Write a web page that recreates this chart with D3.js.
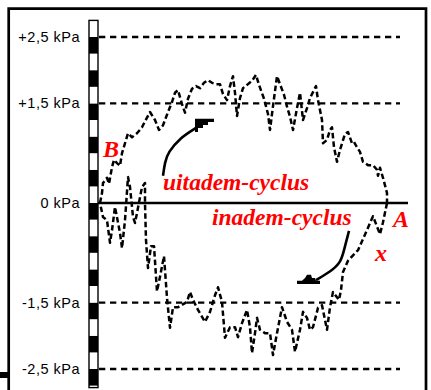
<!DOCTYPE html>
<html>
<head>
<meta charset="utf-8">
<script src="https://cdn.jsdelivr.net/npm/d3@7"></script>
<style>
  html, body { margin: 0; padding: 0; background: #fff; }
  svg { display: block; }
</style>
</head>
<body>
<div id="chart"></div>
<script>
// ── Data ────────────────────────────────────────────────────────────────
// pressure levels (kPa) with their labels
const levels = [2.5, 1.5, 0, -1.5, -2.5];
const levelLabels = ["+2,5 kPa", "+1,5 kPa", "0 kPa", "-1,5 kPa", "-2,5 kPa"];

// upper half of the loop (uitadem), [sample, kPa], left -> right
const uitadem = [
  [2, 0], [4, 0.15], [5, 0.30], [9, 0.38], [11, 0.29], [14, 0.54], [16, 0.65], [19, 0.60],
  [22, 0.56], [24, 0.75], [27, 0.90], [30, 1.05], [34, 0.99], [39, 1.05], [44, 1.14], [47, 1.23],
  [52, 1.37], [57, 1.25], [61, 1.10], [65, 1.17], [70, 1.37], [74, 1.52], [77, 1.66], [80, 1.70],
  [84, 1.49], [87, 1.36], [90, 1.57], [94, 1.72], [98, 1.76], [102, 1.73], [106, 1.81], [110, 1.85],
  [114, 1.81], [118, 1.79], [122, 1.79], [125, 1.64], [129, 1.55], [132, 1.76], [135, 1.91], [137, 1.66],
  [139, 1.31], [142, 1.58], [145, 1.73], [150, 1.79], [154, 1.84], [158, 1.93], [161, 1.78], [166, 1.57],
  [170, 1.34], [172, 1.10], [175, 1.46], [179, 1.91], [182, 1.79], [186, 1.63], [189, 1.45], [192, 1.30],
  [195, 1.10], [199, 1.43], [202, 1.66], [205, 1.25], [209, 1.43], [212, 1.58], [215, 1.67], [218, 1.76],
  [220, 1.55], [224, 1.25], [225, 0.90], [229, 0.95], [232, 1.10], [234, 1.14], [236, 0.84], [239, 0.62],
  [242, 0.80], [247, 1.04], [250, 1.07], [254, 0.90], [256, 0.92], [259, 0.84], [262, 0.77], [265, 0.62],
  [270, 0.57], [275, 0.57], [279, 0.50], [280, 0.41], [282, 0.53], [285, 0.38], [289, 0.15], [289, 0]
];

// lower half of the loop (inadem), [sample, kPa], right -> left
const inadem = [
  [289, 0], [285, -0.29], [282, -0.47], [275, -0.20], [268, -0.44], [260, -0.71], [250, -0.87], [245, -1.04],
  [243, -1.31], [241, -1.46], [238, -1.40], [235, -1.34], [232, -1.57], [229, -1.91], [224, -1.54], [220, -1.58],
  [215, -1.87], [212, -1.91], [209, -1.73], [205, -1.64], [202, -1.91], [197, -2.24], [194, -1.91], [189, -1.79],
  [184, -1.57], [179, -1.96], [175, -2.29], [172, -1.96], [167, -1.96], [162, -1.91], [159, -1.73], [157, -1.96],
  [154, -2.26], [152, -1.87], [149, -1.61], [144, -1.81], [140, -2.02], [137, -1.87], [132, -1.87], [127, -2.03],
  [124, -1.49], [120, -1.27], [117, -1.39], [112, -1.64], [107, -1.79], [100, -1.61], [95, -1.46], [92, -1.34],
  [89, -1.49], [80, -1.57], [75, -1.57], [72, -1.88], [69, -1.43], [66, -0.80], [62, -1.11], [59, -1.33],
  [56, -0.65], [53, -0.65], [50, -0.98], [48, -0.56], [47, 0], [47, 0.30], [44, 0.24], [39, -0.15],
  [37, -0.30], [35, -0.21], [32, 0.24], [30, 0.39], [27, -0.26], [24, -0.68], [22, -0.45], [17, -0.06],
  [14, -0.41], [12, -0.60], [9, -0.26], [5, -0.21], [2, 0]
];

// annotation labels: [text, sample, kPa, font size]
const annotations = [
  ["B", 5, 0.69, 24],
  ["uitadem-cyclus", 65, 0.19, 23.5],
  ["inadem-cyclus", 114, -0.33, 23.5],
  ["A", 295, -0.36, 24],
  ["x", 277, -0.87, 24]
];

// arrow shafts and heads, [sample, kPa]
const upArrowShaft = [[65, 0.41], [67, 0.62], [70, 0.76], [82, 0.98], [98, 1.13]];
const upArrowHead = [[97, 1.27], [116, 1.27], [116, 1.22], [110, 1.22], [110, 1.175], [105, 1.175],
  [105, 1.13], [100, 1.13], [100, 1.07], [97, 1.07]];
const downArrowShaft = [[251, -0.42], [246, -0.71], [243, -0.89], [233, -1.03], [218, -1.16]];
const downArrowHead = [[199, -1.22], [222, -1.22], [222, -1.17], [218, -1.17], [217, -1.13], [214, -1.13],
  [213, -1.08], [209, -1.08], [207, -1.13], [204, -1.17], [199, -1.17]];

// ── Setup ───────────────────────────────────────────────────────────────
const W = 431, H = 390;
const x = d3.scaleLinear().domain([0, 310]).range([98, 408]);
const y = d3.scaleLinear().domain([-2.75, 2.75]).range([385.6, 20.4]);

const svg = d3.select("#chart").append("svg").attr("width", W).attr("height", H);

// frame
svg.append("path")
  .attr("d", `M8.7,${H + 5} V8.7 H426 V${H + 5}`)
  .attr("fill", "none").attr("stroke", "#000").attr("stroke-width", 2.7);
svg.append("rect").attr("x", 0).attr("y", 372).attr("width", 9).attr("height", 6).attr("fill", "#000");

// ── Gridlines ───────────────────────────────────────────────────────────
svg.append("g")
  .selectAll("line")
  .data(levels.filter((d) => d !== 0))
  .join("line")
  .attr("x1", 99).attr("x2", 400)
  .attr("y1", (d) => y(d)).attr("y2", (d) => y(d))
  .attr("stroke", "#000").attr("stroke-width", 2.4)
  .attr("stroke-dasharray", "6.3 4.7");

// zero line
svg.append("line")
  .attr("x1", x(0)).attr("x2", 408)
  .attr("y1", y(0)).attr("y2", y(0))
  .attr("stroke", "#000").attr("stroke-width", 2.7);

// ── Scale bar (alternating 0.25 kPa blocks) ─────────────────────────────
const blocks = d3.range(-11, 11).map((i) => i * 0.25);
const bar = svg.append("g");
bar.selectAll("rect")
  .data(blocks)
  .join("rect")
  .attr("x", 89).attr("width", 9)
  .attr("y", (d) => y(d + 0.25)).attr("height", (d) => y(d) - y(d + 0.25))
  .attr("fill", (d) => (Math.round(d * 4) % 2 === 0 ? "#fff" : "#000"));
bar.append("rect")
  .attr("x", 89).attr("width", 9)
  .attr("y", y(2.75)).attr("height", y(-2.75) - y(2.75) + 2)
  .attr("fill", "none").attr("stroke", "#000").attr("stroke-width", 1.4);

// level labels
svg.append("g")
  .selectAll("text")
  .data(levels)
  .join("text")
  .attr("x", 80).attr("y", (d) => y(d))
  .attr("text-anchor", "end").attr("dominant-baseline", "central")
  .attr("font-family", "'Liberation Sans', Arial, Helvetica, sans-serif")
  .attr("font-size", 14.5)
  .attr("letter-spacing", 0.5)
  .text((d, i) => levelLabels[i]);

// ── Loop ────────────────────────────────────────────────────────────────
const line = d3.line().x((d) => x(d[0])).y((d) => y(d[1]));
svg.append("g")
  .selectAll("path")
  .data([uitadem, inadem])
  .join("path")
  .attr("d", line)
  .attr("fill", "none").attr("stroke", "#000").attr("stroke-width", 2.5)
  .attr("stroke-dasharray", "5.5 3").attr("stroke-linejoin", "round");

// ── Arrows ──────────────────────────────────────────────────────────────
const curve = d3.line().x((d) => x(d[0])).y((d) => y(d[1])).curve(d3.curveBasis);
svg.append("g")
  .selectAll("path")
  .data([upArrowShaft, downArrowShaft])
  .join("path")
  .attr("d", curve)
  .attr("fill", "none").attr("stroke", "#000").attr("stroke-width", 2.6);
svg.append("g")
  .selectAll("polygon")
  .data([upArrowHead, downArrowHead])
  .join("polygon")
  .attr("points", (d) => d.map((p) => [x(p[0]), y(p[1])].join(",")).join(" "))
  .attr("fill", "#000");

// ── Red annotations ─────────────────────────────────────────────────────
svg.append("g")
  .selectAll("text")
  .data(annotations)
  .join("text")
  .attr("x", (d) => x(d[1])).attr("y", (d) => y(d[2]))
  .attr("fill", "#f00")
  .attr("font-family", "'Liberation Serif', 'Times New Roman', serif")
  .attr("font-style", "italic").attr("font-weight", "bold")
  .attr("font-size", (d) => d[3])
  .text((d) => d[0]);
</script>
</body>
</html>
